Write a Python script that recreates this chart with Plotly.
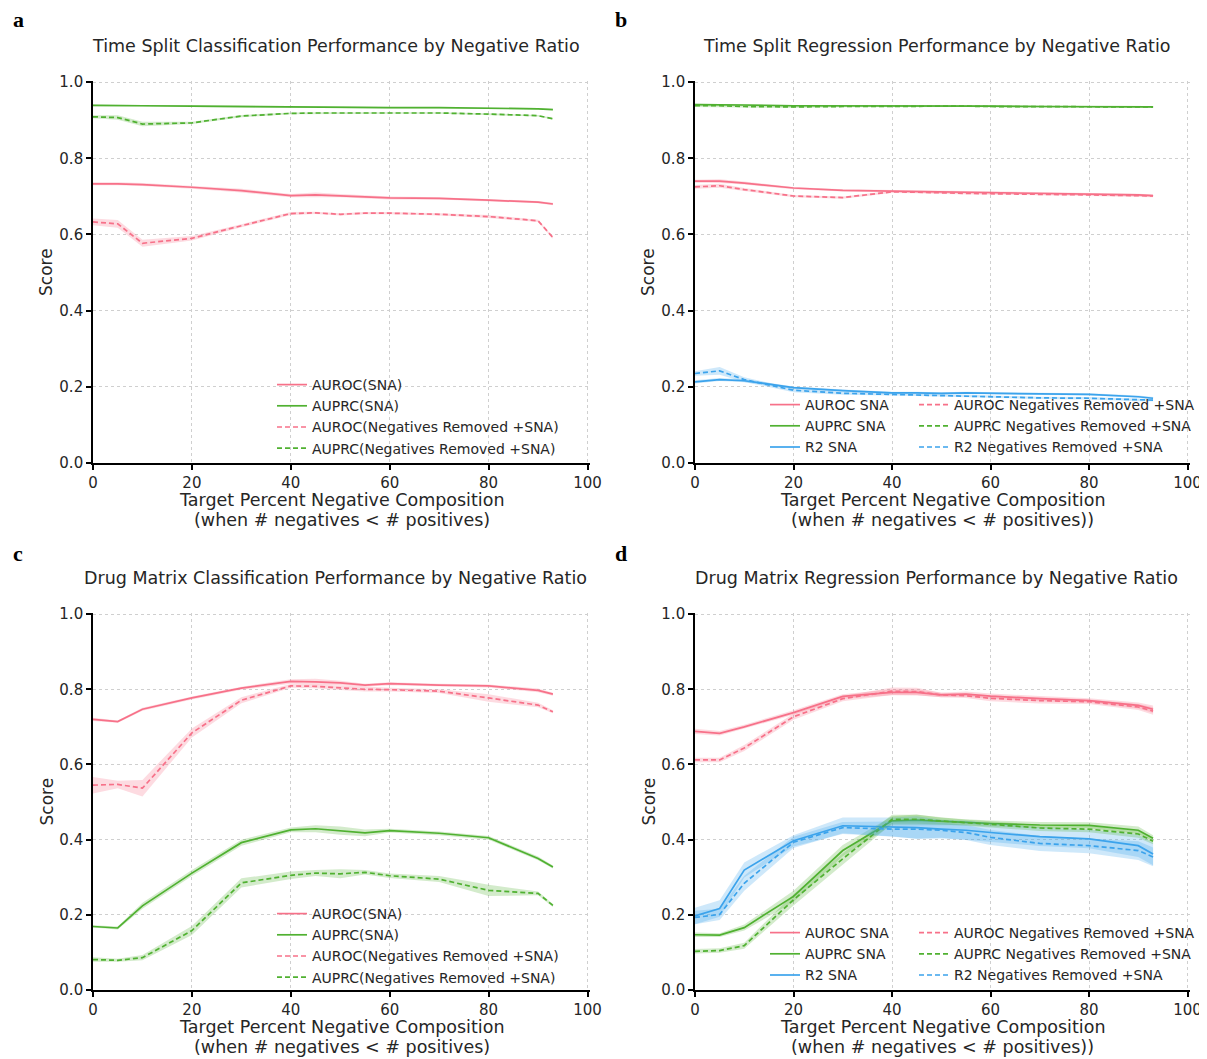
import plotly.graph_objects as go

# The page body has an 8px margin, so the figure is drawn 8px in from the corner.
OFF = 8
W, H = 1207 - OFF, 1059 - OFF

# ---------------- data ----------------
x_pct = [0, 5, 10, 20, 30, 40, 45, 50, 55, 60, 70, 80, 90, 93]

# Panel a: Time split classification
a_auroc_sna = [0.733, 0.733, 0.731, 0.724, 0.715, 0.702, 0.704, 0.702, 0.699, 0.696, 0.695, 0.690, 0.685, 0.680]
a_auroc_sna_ci = [0.004, 0.004, 0.004, 0.004, 0.005, 0.004, 0.006, 0.004, 0.004, 0.004, 0.003, 0.003, 0.003, 0.003]
a_auprc_sna = [0.939, 0.939, 0.938, 0.937, 0.936, 0.934, 0.935, 0.934, 0.934, 0.933, 0.933, 0.932, 0.930, 0.928]
a_auprc_sna_ci = [0.002] * 14
a_auroc_neg = [0.633, 0.628, 0.577, 0.590, 0.623, 0.655, 0.657, 0.653, 0.656, 0.656, 0.653, 0.647, 0.636, 0.592]
a_auroc_neg_ci = [0.009, 0.010, 0.009, 0.006, 0.004, 0.004, 0.003, 0.003, 0.003, 0.003, 0.003, 0.004, 0.003, 0.003]
a_auprc_neg = [0.909, 0.907, 0.890, 0.893, 0.911, 0.918, 0.919, 0.919, 0.919, 0.919, 0.919, 0.916, 0.912, 0.904]
a_auprc_neg_ci = [0.004, 0.006, 0.006, 0.003, 0.003, 0.002, 0.002, 0.002, 0.002, 0.002, 0.002, 0.002, 0.002, 0.002]

# Panel b: Time split regression
b_auroc_sna = [0.740, 0.740, 0.735, 0.722, 0.716, 0.714, 0.713, 0.712, 0.711, 0.711, 0.709, 0.707, 0.704, 0.702]
b_auroc_sna_ci = [0.004, 0.005, 0.004, 0.003, 0.003, 0.003, 0.003, 0.003, 0.003, 0.003, 0.003, 0.003, 0.003, 0.003]
b_auroc_neg = [0.725, 0.728, 0.718, 0.701, 0.697, 0.712, 0.711, 0.709, 0.708, 0.707, 0.706, 0.704, 0.702, 0.701]
b_auroc_neg_ci = [0.005, 0.005, 0.004, 0.003, 0.003, 0.003, 0.003, 0.003, 0.003, 0.003, 0.003, 0.003, 0.003, 0.003]
b_auprc_sna = [0.941, 0.941, 0.940, 0.938, 0.938, 0.938, 0.938, 0.937, 0.937, 0.937, 0.936, 0.936, 0.935, 0.935]
b_auprc_sna_ci = [0.002] * 14
b_auprc_neg = [0.938, 0.938, 0.936, 0.935, 0.936, 0.937, 0.937, 0.937, 0.937, 0.936, 0.936, 0.935, 0.935, 0.935]
b_auprc_neg_ci = [0.003, 0.003, 0.003, 0.003, 0.002, 0.002, 0.002, 0.002, 0.002, 0.002, 0.002, 0.002, 0.002, 0.002]
b_r2_sna = [0.213, 0.219, 0.216, 0.198, 0.190, 0.184, 0.184, 0.183, 0.184, 0.183, 0.182, 0.180, 0.174, 0.170]
b_r2_sna_ci = [0.004, 0.004, 0.004, 0.003, 0.003, 0.003, 0.003, 0.003, 0.003, 0.003, 0.003, 0.003, 0.003, 0.003]
b_r2_neg = [0.235, 0.242, 0.219, 0.191, 0.183, 0.180, 0.179, 0.178, 0.176, 0.174, 0.171, 0.170, 0.165, 0.165]
b_r2_neg_ci = [0.006, 0.010, 0.006, 0.005, 0.004, 0.003, 0.003, 0.003, 0.003, 0.003, 0.003, 0.003, 0.003, 0.003]

# Panel c: Drug matrix classification
c_auroc_sna = [0.720, 0.714, 0.747, 0.777, 0.803, 0.821, 0.820, 0.817, 0.811, 0.815, 0.811, 0.809, 0.797, 0.787]
c_auroc_sna_ci = [0.004, 0.003, 0.004, 0.004, 0.004, 0.006, 0.008, 0.006, 0.004, 0.004, 0.004, 0.004, 0.005, 0.004]
c_auroc_neg = [0.545, 0.547, 0.537, 0.684, 0.771, 0.809, 0.808, 0.804, 0.800, 0.799, 0.795, 0.777, 0.758, 0.740]
c_auroc_neg_ci = [0.022, 0.010, 0.022, 0.012, 0.008, 0.005, 0.005, 0.006, 0.006, 0.005, 0.005, 0.010, 0.006, 0.004]
c_auprc_sna = [0.169, 0.165, 0.224, 0.311, 0.392, 0.426, 0.429, 0.424, 0.418, 0.424, 0.417, 0.405, 0.350, 0.327]
c_auprc_sna_ci = [0.003, 0.004, 0.008, 0.008, 0.008, 0.006, 0.009, 0.011, 0.009, 0.005, 0.005, 0.005, 0.005, 0.004]
c_auprc_neg = [0.081, 0.079, 0.086, 0.158, 0.285, 0.305, 0.311, 0.309, 0.313, 0.304, 0.295, 0.265, 0.257, 0.225]
c_auprc_neg_ci = [0.006, 0.004, 0.007, 0.012, 0.012, 0.010, 0.008, 0.012, 0.006, 0.006, 0.008, 0.015, 0.005, 0.004]

# Panel d: Drug matrix regression
d_auroc_sna = [0.688, 0.683, 0.700, 0.738, 0.781, 0.792, 0.792, 0.785, 0.787, 0.782, 0.775, 0.770, 0.757, 0.747]
d_auroc_sna_ci = [0.007, 0.006, 0.006, 0.006, 0.006, 0.008, 0.008, 0.006, 0.007, 0.007, 0.007, 0.006, 0.008, 0.010]
d_auroc_neg = [0.612, 0.612, 0.644, 0.727, 0.775, 0.795, 0.794, 0.785, 0.783, 0.776, 0.770, 0.767, 0.753, 0.742]
d_auroc_neg_ci = [0.006, 0.006, 0.008, 0.008, 0.007, 0.010, 0.010, 0.006, 0.006, 0.008, 0.008, 0.006, 0.008, 0.010]
d_auprc_sna = [0.147, 0.146, 0.166, 0.249, 0.371, 0.450, 0.452, 0.448, 0.446, 0.443, 0.439, 0.438, 0.425, 0.404]
d_auprc_sna_ci = [0.006, 0.005, 0.008, 0.015, 0.015, 0.012, 0.015, 0.010, 0.008, 0.008, 0.008, 0.008, 0.010, 0.008]
d_auprc_neg = [0.103, 0.105, 0.118, 0.240, 0.349, 0.454, 0.454, 0.450, 0.445, 0.441, 0.431, 0.428, 0.415, 0.396]
d_auprc_neg_ci = [0.006, 0.006, 0.008, 0.015, 0.015, 0.012, 0.012, 0.010, 0.008, 0.008, 0.008, 0.008, 0.010, 0.008]
d_r2_sna = [0.197, 0.217, 0.319, 0.397, 0.437, 0.434, 0.432, 0.428, 0.425, 0.419, 0.408, 0.402, 0.384, 0.362]
d_r2_sna_ci = [0.022, 0.022, 0.020, 0.015, 0.022, 0.025, 0.030, 0.025, 0.025, 0.025, 0.025, 0.025, 0.030, 0.030]
d_r2_neg = [0.193, 0.201, 0.284, 0.393, 0.432, 0.428, 0.428, 0.425, 0.419, 0.406, 0.390, 0.384, 0.371, 0.354]
d_r2_neg_ci = [0.018, 0.015, 0.020, 0.015, 0.015, 0.020, 0.025, 0.020, 0.020, 0.020, 0.020, 0.020, 0.025, 0.025]

x_ticks = [0, 20, 40, 60, 80, 100]
y_ticks = [0.0, 0.2, 0.4, 0.6, 0.8, 1.0]

titles = [
    "Time Split Classification Performance by Negative Ratio",
    "Time Split Regression Performance by Negative Ratio",
    "Drug Matrix Classification Performance by Negative Ratio",
    "Drug Matrix Regression Performance by Negative Ratio",
]
panel_letters = ["a", "b", "c", "d"]
xtitle_line1 = "Target Percent Negative Composition"
xtitle_line2 = ["(when # negatives &lt; # positives)", "(when # negatives &lt; # positives))",
                "(when # negatives &lt; # positives)", "(when # negatives &lt; # positives))"]
ytitle = "Score"

PINK = "#f77189"
GREEN = "#50b131"
BLUE = "#3ba3ec"
FILL = {PINK: "rgba(247,113,137,0.25)", GREEN: "rgba(80,177,49,0.25)", BLUE: "rgba(59,163,236,0.25)"}
FONT = "DejaVu Sans"
TXT = "#262626"


def px(x):
    return (x - OFF) / W


def py(y):
    return 1 - (y - OFF) / H


fig = go.Figure()


def add_series(k, y, ci, color, dash, name, legend):
    xa = "x" if k == 1 else f"x{k}"
    ya = "y" if k == 1 else f"y{k}"
    upper = [v + c for v, c in zip(y, ci)]
    lower = [v - c for v, c in zip(y, ci)]
    fig.add_trace(go.Scatter(
        x=x_pct + x_pct[::-1], y=upper + lower[::-1], xaxis=xa, yaxis=ya,
        fill="toself", fillcolor=FILL[color], line=dict(width=0), mode="lines",
        showlegend=False, hoverinfo="skip"))
    fig.add_trace(go.Scatter(
        x=x_pct, y=y, xaxis=xa, yaxis=ya, mode="lines", name=name,
        line=dict(color=color, width=1.7, dash="5px,3px" if dash else "solid"),
        legend=legend))


# panel a
add_series(1, a_auroc_sna, a_auroc_sna_ci, PINK, False, "AUROC(SNA)", "legend")
add_series(1, a_auprc_sna, a_auprc_sna_ci, GREEN, False, "AUPRC(SNA)", "legend")
add_series(1, a_auroc_neg, a_auroc_neg_ci, PINK, True, "AUROC(Negatives Removed +SNA)", "legend")
add_series(1, a_auprc_neg, a_auprc_neg_ci, GREEN, True, "AUPRC(Negatives Removed +SNA)", "legend")
# panel b
add_series(2, b_auroc_sna, b_auroc_sna_ci, PINK, False, "AUROC SNA", "legend2")
add_series(2, b_auprc_sna, b_auprc_sna_ci, GREEN, False, "AUPRC SNA", "legend2")
add_series(2, b_r2_sna, b_r2_sna_ci, BLUE, False, "R2 SNA", "legend2")
add_series(2, b_auroc_neg, b_auroc_neg_ci, PINK, True, "AUROC Negatives Removed +SNA", "legend3")
add_series(2, b_auprc_neg, b_auprc_neg_ci, GREEN, True, "AUPRC Negatives Removed +SNA", "legend3")
add_series(2, b_r2_neg, b_r2_neg_ci, BLUE, True, "R2 Negatives Removed +SNA", "legend3")
# panel c
add_series(3, c_auroc_sna, c_auroc_sna_ci, PINK, False, "AUROC(SNA)", "legend4")
add_series(3, c_auprc_sna, c_auprc_sna_ci, GREEN, False, "AUPRC(SNA)", "legend4")
add_series(3, c_auroc_neg, c_auroc_neg_ci, PINK, True, "AUROC(Negatives Removed +SNA)", "legend4")
add_series(3, c_auprc_neg, c_auprc_neg_ci, GREEN, True, "AUPRC(Negatives Removed +SNA)", "legend4")
# panel d
add_series(4, d_auroc_sna, d_auroc_sna_ci, PINK, False, "AUROC SNA", "legend5")
add_series(4, d_auprc_sna, d_auprc_sna_ci, GREEN, False, "AUPRC SNA", "legend5")
add_series(4, d_r2_sna, d_r2_sna_ci, BLUE, False, "R2 SNA", "legend5")
add_series(4, d_auroc_neg, d_auroc_neg_ci, PINK, True, "AUROC Negatives Removed +SNA", "legend6")
add_series(4, d_auprc_neg, d_auprc_neg_ci, GREEN, True, "AUPRC Negatives Removed +SNA", "legend6")
add_series(4, d_r2_neg, d_r2_neg_ci, BLUE, True, "R2 Negatives Removed +SNA", "legend6")

# layout geometry (screen pixels of the reference)
left_px = [(93, 590), (695, 1190)]
top_px = [(81, 463), (613, 990)]
panels = [(0, 0), (1, 0), (0, 1), (1, 1)]

layout = dict(
    template="none",
    width=W, height=H, margin=dict(l=0, r=0, t=0, b=0, autoexpand=False),
    paper_bgcolor="white", plot_bgcolor="white",
    font=dict(family=FONT, color=TXT, size=15),
)

annotations = []
for i, (cx, cy) in enumerate(panels):
    k = i + 1
    x0, x1 = left_px[cx]
    y0, y1 = top_px[cy]
    xd = [px(x0), px(x1)]
    yd = [py(y1), py(y0)]
    xa = "xaxis" if k == 1 else f"xaxis{k}"
    ya = "yaxis" if k == 1 else f"yaxis{k}"
    ax_common = dict(
        automargin=False,
        showline=True, linecolor="black", linewidth=1.6,
        ticks="outside", ticklen=5, tickwidth=1.6, tickcolor="black",
        showgrid=True, gridcolor="#cfcfcf", griddash="dot", gridwidth=1,
        zeroline=False, tickfont=dict(size=15, family=FONT, color=TXT),
    )
    layout[xa] = dict(
        domain=xd, anchor="y" if k == 1 else f"y{k}", range=[0, 100.5],
        tickvals=x_ticks, ticktext=[str(t) for t in x_ticks], **ax_common)
    layout[ya] = dict(
        domain=yd, anchor="x" if k == 1 else f"x{k}", range=[0, 1.003],
        tickvals=y_ticks, ticktext=[f"{t:.1f}" for t in y_ticks], **ax_common)
    xc = (x0 + x1) / 2
    # panel title
    annotations.append(dict(
        text=titles[i], x=px(xc - 6), y=py(46 if cy == 0 else 578),
        xref="paper", yref="paper", showarrow=False, xanchor="center", yanchor="middle",
        font=dict(size=17.5, family=FONT, color=TXT)))
    # panel letter
    annotations.append(dict(
        text=f"<b>{panel_letters[i]}</b>", x=px(11 if cx == 0 else 613),
        y=py(20 if cy == 0 else 553), xref="paper", yref="paper",
        showarrow=False, xanchor="left", yanchor="middle",
        font=dict(size=22, family="Liberation Serif", color="black")))
    # x-axis title (two lines)
    annotations.append(dict(
        text=xtitle_line1, x=px(xc), y=py(y1 + 37), xref="paper", yref="paper",
        showarrow=False, xanchor="center", yanchor="middle",
        font=dict(size=17.5, family=FONT, color=TXT)))
    annotations.append(dict(
        text=xtitle_line2[i], x=px(xc), y=py(y1 + 56.5), xref="paper", yref="paper",
        showarrow=False, xanchor="center", yanchor="middle",
        font=dict(size=17.5, family=FONT, color=TXT)))
    # y-axis title
    annotations.append(dict(
        text=ytitle, x=px(x0 - 47), y=py((y0 + y1) / 2), xref="paper", yref="paper",
        showarrow=False, xanchor="center", yanchor="middle", textangle=-90,
        font=dict(size=17, family=FONT, color=TXT)))

layout["annotations"] = annotations


def legend_at(sx, sy):
    return dict(x=px(sx), y=py(sy), xanchor="left", yanchor="top",
                bgcolor="rgba(0,0,0,0)", borderwidth=0,
                font=dict(size=14, family=FONT, color=TXT), tracegroupgap=0)


layout["legend"] = legend_at(272, 369)
layout["legend2"] = legend_at(765, 389)
layout["legend3"] = legend_at(914, 389)
layout["legend4"] = legend_at(272, 898)
layout["legend5"] = legend_at(765, 917)
layout["legend6"] = legend_at(914, 917)

fig.update_layout(**layout)
fig.write_html("out.html")
